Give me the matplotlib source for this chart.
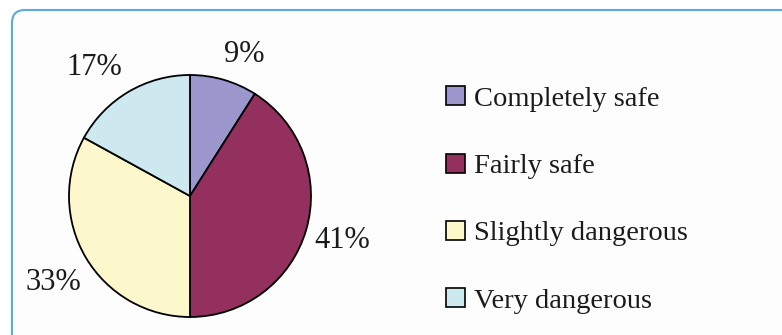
import matplotlib.pyplot as plt
from matplotlib.patches import FancyBboxPatch

# survey answers (percent)
labels = ["Completely safe", "Fairly safe", "Slightly dangerous", "Very dangerous"]
values = [9, 41, 33, 17]
colors = ["#9b97cc", "#93305e", "#fcf8cc", "#cde9ef"]

plt.rcParams["font.family"] = ["Liberation Serif", "DejaVu Serif"]

W, H = 782, 335
fig = plt.figure(figsize=(W / 100, H / 100), dpi=100)
fig.patch.set_facecolor("white")

# one axes over the whole figure, 1 unit = 1 pixel
ax = fig.add_axes([0, 0, 1, 1])

# rounded blue frame, running off the right and bottom edges
frame = FancyBboxPatch((12, -20), W + 20, H - 10 + 20,
                       boxstyle="round,pad=0,rounding_size=13",
                       facecolor="#fdfdfd", edgecolor="#5aaae2", linewidth=1.5,
                       zorder=0)
ax.add_patch(frame)

cx, cy, r = 190, H - 196, 121
wedges, texts, autotexts = ax.pie(values, colors=colors, startangle=90, counterclock=False,
                                  center=(cx, cy), radius=r, frame=True,
                                  autopct=lambda p: f"{p:.0f}%", pctdistance=1.31,
                                  wedgeprops=dict(edgecolor="black", linewidth=1.3),
                                  textprops=dict(fontsize=22, color="#1a1a1a"))
for w in wedges:
    w.set_zorder(2)

# small nudges of the percent labels (pixels)
nudges = [(10, -11), (0, 0), (0, -6), (-15, -8)]
for t, (dx, dy) in zip(autotexts, nudges):
    x, y = t.get_position()
    t.set_position((x + dx, y + dy))

ax.set_xlim(0, W)
ax.set_ylim(0, H)
ax.set_aspect("auto")
ax.axis("off")

leg = ax.legend(wedges, labels, loc="center left", bbox_to_anchor=(446 / W, 1 - 200 / H),
                frameon=False, fontsize=20.5, handlelength=0.65, handleheight=0.65,
                handletextpad=0.35, labelspacing=1.47, borderpad=0, borderaxespad=0)
for t in leg.get_texts():
    t.set_color("#1a1a1a")
for h in leg.legend_handles:
    h.set_linewidth(1.2)

fig.savefig("out.png", dpi=100)
